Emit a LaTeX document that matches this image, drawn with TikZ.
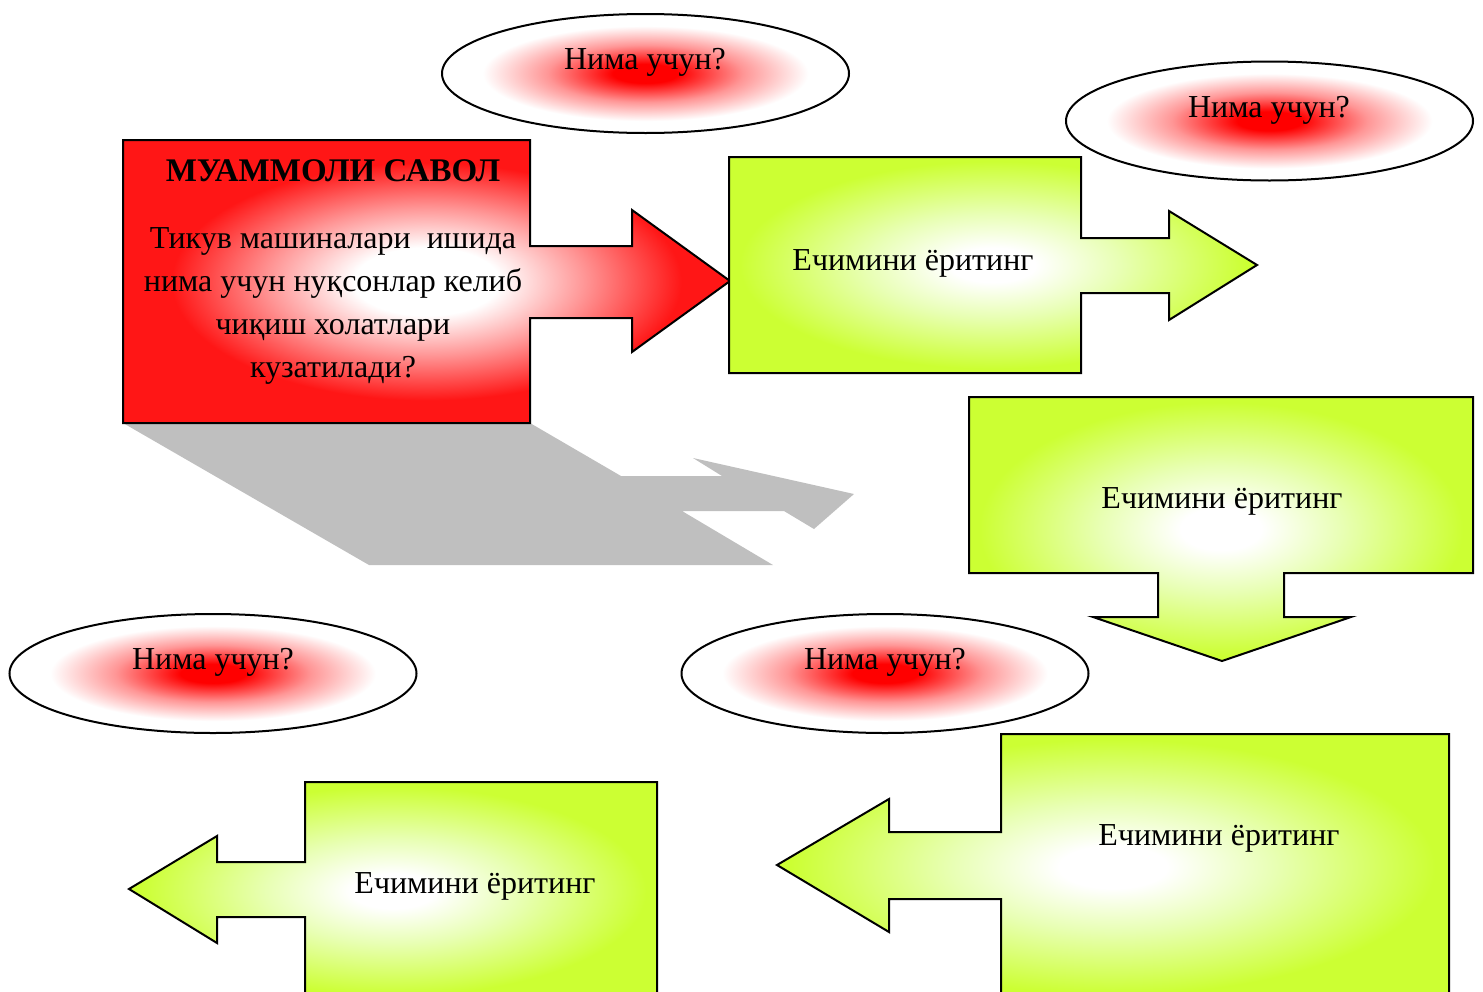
\documentclass[tikz,border=0pt]{standalone}
\usepackage{fontspec}
\setmainfont{Liberation Serif}
\usetikzlibrary{shapes.geometric}
\definecolor{QRed}{RGB}{255,22,22}
\definecolor{PaleRed}{RGB}{255,150,150}
\definecolor{LimeGreen}{RGB}{204,255,51}
\definecolor{PaleLime}{RGB}{232,255,180}
\pgfdeclareradialshading{redbox}{\pgforigin}{color(0bp)=(white); color(6bp)=(white); color(13bp)=(PaleRed); color(21bp)=(QRed); color(50bp)=(QRed)}
\pgfdeclareradialshading{limebox}{\pgforigin}{color(0bp)=(white); color(4bp)=(white); color(12bp)=(PaleLime); color(24bp)=(LimeGreen); color(50bp)=(LimeGreen)}
\pgfdeclareradialshading{bubbleglow}{\pgforigin}{color(0bp)=(red); color(4bp)=(red); color(12bp)=(PaleRed); color(20bp)=(white); color(50bp)=(white)}

\begin{document}
\begin{tikzpicture}[x=0.5pt,y=-0.5pt,
  txt/.style={font=\fontsize{16}{21.5}\selectfont,inner sep=0pt},
  bubble/.style={ellipse,draw,line width=1pt,shade,shading=bubbleglow,minimum width=203.5pt,minimum height=59.5pt,inner sep=0pt},
  redshape/.style={draw,line width=1pt,shade,shading=redbox},
  limeshape/.style={draw,line width=1pt,shade,shading=limebox}]
\useasboundingbox (0,0) rectangle (1483,991);
\clip (0,0) rectangle (1483,991);

% shadow of the question box
\fill[gray!50] (123,423) -- (530,423) -- (621,476) -- (722,476) -- (693,458) -- (854,494) -- (814,529) -- (784,511) -- (682,511) -- (773,565) -- (369,565) -- cycle;

% question box
\path[redshape] (123,140) -- (530,140) -- (530,246) -- (632,246) -- (632,210) -- (730,281) -- (632,352) -- (632,318) -- (530,318) -- (530,423) -- (123,423) -- cycle;
\node[txt,font=\fontsize{16.5}{21.5}\bfseries] (savol) at (333,171) {МУАММОЛИ САВОЛ};
\node[txt,align=center] (savoltxt) at (333,306) {Тикув машиналари~ ишида\\нима учун нуқсонлар келиб\\чиқиш холатлари\\кузатилади?};

% bubbles
\node[bubble] (why1) at (645.5,73.5) {};
\node[bubble] (why2) at (1269.5,121) {};
\node[bubble] (why3) at (213,673.5) {};
\node[bubble] (why4) at (885,673.5) {};
\node[txt] (why1txt) at (645,62) {Нима учун?};
\node[txt] (why2txt) at (1269,110) {Нима учун?};
\node[txt] (why3txt) at (213,662) {Нима учун?};
\node[txt] (why4txt) at (885,662) {Нима учун?};

% answer boxes
\path[limeshape] (729,157) -- (1081,157) -- (1081,238) -- (1169,238) -- (1169,211) -- (1257,265) -- (1169,320) -- (1169,293) -- (1081,293) -- (1081,373) -- (729,373) -- cycle;
\node[txt] (ans1) at (913,263) {Ечимини ёритинг};

\path[limeshape] (969,397) -- (1473,397) -- (1473,573) -- (1284,573) -- (1284,617) -- (1351,617) -- (1222,661) -- (1093,617) -- (1158,617) -- (1158,573) -- (969,573) -- cycle;
\node[txt] (ans2) at (1222,501) {Ечимини ёритинг};

\path[limeshape] (1001,734) -- (1449,734) -- (1449,1000) -- (1001,1000) -- (1001,899) -- (889,899) -- (889,932) -- (777,865) -- (889,799) -- (889,832) -- (1001,832) -- cycle;
\node[txt] (ans3) at (1219,838) {Ечимини ёритинг};

\path[limeshape] (305,782) -- (657,782) -- (657,1000) -- (305,1000) -- (305,917) -- (217,917) -- (217,943) -- (129,889) -- (217,836) -- (217,862) -- (305,862) -- cycle;
\node[txt] (ans4) at (475,886) {Ечимини ёритинг};
\end{tikzpicture}
\end{document}
